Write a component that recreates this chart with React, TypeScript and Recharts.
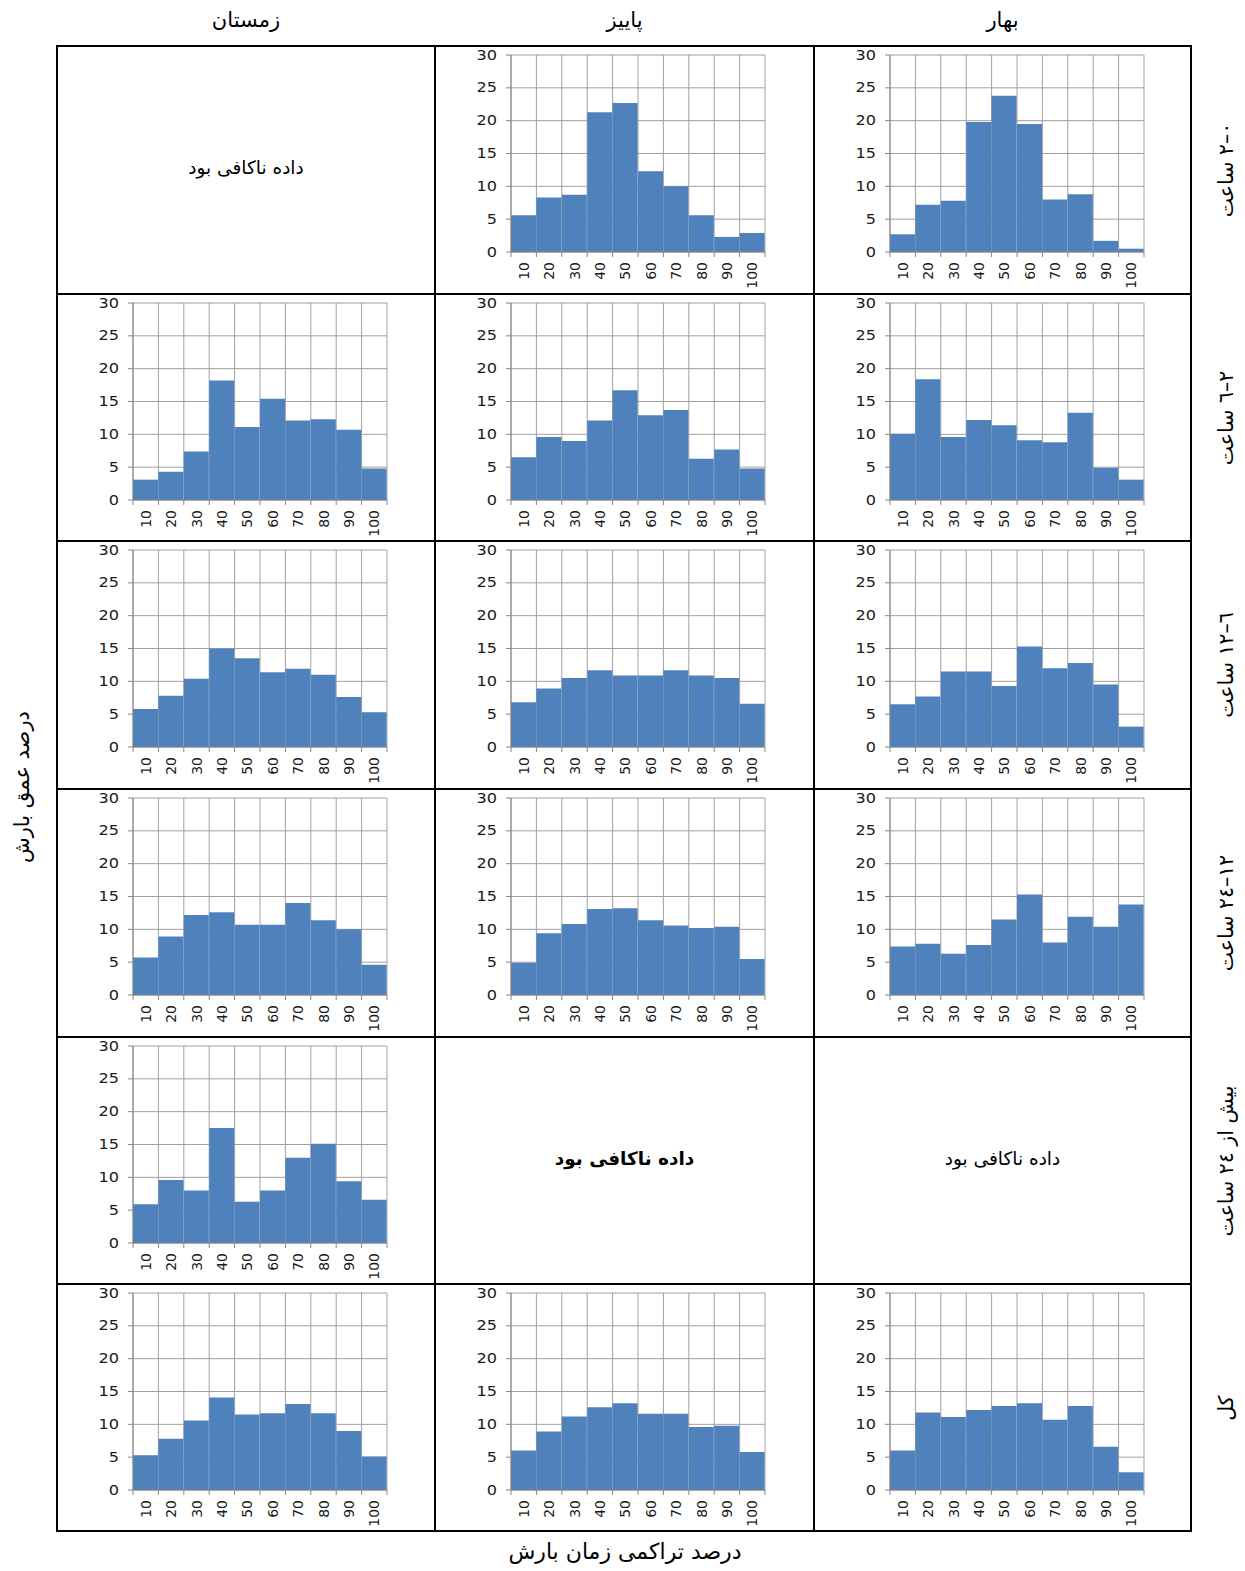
import { BarChart, Bar, XAxis, YAxis, CartesianGrid } from "recharts";

// categories and axis ticks
const BINS = ["10", "20", "30", "40", "50", "60", "70", "80", "90", "100"];
const Y_TICKS = [0, 5, 10, 15, 20, 25, 30];

const SEASONS = ["زمستان", "پاییز", "بهار"];
const DURATIONS = [
  "٠–٢ ساعت",
  "٢–٦ ساعت",
  "٦–١٢ ساعت",
  "١٢–٢٤ ساعت",
  "بیش از ٢٤ ساعت",
  "کل",
];
const NO_DATA = "داده ناکافی بود";

// percent of rainfall depth per 10% of cumulative duration
const FALL_0_2 = [5.6, 8.3, 8.7, 21.3, 22.7, 12.3, 10.0, 5.6, 2.3, 2.9];
const SPRING_0_2 = [2.7, 7.2, 7.8, 19.8, 23.8, 19.5, 8.0, 8.8, 1.7, 0.5];
const WINTER_2_6 = [3.1, 4.3, 7.4, 18.2, 11.1, 15.4, 12.1, 12.3, 10.7, 4.8];
const FALL_2_6 = [6.5, 9.6, 9.0, 12.1, 16.7, 12.9, 13.7, 6.3, 7.7, 4.8];
const SPRING_2_6 = [10.1, 18.4, 9.6, 12.2, 11.4, 9.1, 8.8, 13.3, 4.9, 3.1];
const WINTER_6_12 = [5.8, 7.8, 10.4, 15.0, 13.5, 11.4, 11.9, 11.0, 7.6, 5.3];
const FALL_6_12 = [6.8, 8.9, 10.5, 11.7, 10.9, 10.9, 11.7, 10.9, 10.5, 6.6];
const SPRING_6_12 = [6.5, 7.7, 11.5, 11.5, 9.3, 15.3, 12.0, 12.8, 9.5, 3.1];
const WINTER_12_24 = [5.7, 8.9, 12.2, 12.6, 10.7, 10.7, 14.0, 11.4, 10.0, 4.6];
const FALL_12_24 = [4.9, 9.4, 10.8, 13.1, 13.2, 11.4, 10.6, 10.2, 10.4, 5.5];
const SPRING_12_24 = [7.4, 7.8, 6.3, 7.6, 11.5, 15.3, 8.0, 11.9, 10.4, 13.8];
const WINTER_OVER_24 = [5.9, 9.6, 8.0, 17.5, 6.3, 8.0, 13.0, 15.1, 9.4, 6.6];
const WINTER_ALL = [5.3, 7.8, 10.6, 14.1, 11.5, 11.7, 13.1, 11.7, 9.0, 5.1];
const FALL_ALL = [6.0, 8.9, 11.2, 12.6, 13.2, 11.6, 11.6, 9.6, 9.8, 5.8];
const SPRING_ALL = [6.0, 11.8, 11.1, 12.2, 12.8, 13.2, 10.7, 12.8, 6.6, 2.7];

// rows = durations, columns = winter / fall / spring (null = not enough data)
const PANELS: (number[] | null)[][] = [
  [null, FALL_0_2, SPRING_0_2],
  [WINTER_2_6, FALL_2_6, SPRING_2_6],
  [WINTER_6_12, FALL_6_12, SPRING_6_12],
  [WINTER_12_24, FALL_12_24, SPRING_12_24],
  [WINTER_OVER_24, null, null],
  [WINTER_ALL, FALL_ALL, SPRING_ALL],
];

// table grid lines
const COL_X = [57, 435, 814, 1191];
const ROW_Y = [46, 294, 541, 789, 1037, 1284, 1531];

const BAR = "#4F81BD";
const AXIS = "#868686";
const GRID = "#a0a0a0";
const FONT = "'DejaVu Sans', sans-serif";

function ValueTick(props: any) {
  const { x, y, payload } = props;
  return (
    <text
      x={x}
      y={y}
      textAnchor="end"
      dominantBaseline="central"
      fontSize={14}
      fontFamily={FONT}
      fill="#1a1a1a"
      transform={`translate(${x} ${y}) scale(1.15 1) translate(${-x} ${-y})`}
    >
      {payload.value}
    </text>
  );
}

function BinTick(props: any) {
  const { x, y, payload, index, visibleTicksCount } = props;
  const half = payload.offset || 12.6;
  const top = y - 10;
  return (
    <g>
      <line x1={x - half} x2={x - half} y1={top} y2={top + 5} stroke={AXIS} />
      {index === visibleTicksCount - 1 && (
        <line x1={x + half} x2={x + half} y1={top} y2={top + 5} stroke={AXIS} />
      )}
      <text
        x={x}
        y={y}
        textAnchor="end"
        dominantBaseline="central"
        fontSize={14}
        fontFamily={FONT}
        fill="#1a1a1a"
        transform={`rotate(-90 ${x} ${y})`}
      >
        {payload.value}
      </text>
    </g>
  );
}

function Hist({ values }: { values: number[] }) {
  const data = BINS.map((bin, i) => ({ bin, v: values[i] }));
  return (
    <BarChart
      width={376}
      height={246}
      data={data}
      margin={{ top: 9, right: 46, bottom: 0, left: 0 }}
      barCategoryGap={0}
      barGap={0}
    >
      <CartesianGrid
        stroke={GRID}
        verticalCoordinatesGenerator={({ offset }: any) =>
          BINS.map((_, i) => offset.left + (i * offset.width) / BINS.length).concat(
            offset.left + offset.width
          )
        }
      />
      <XAxis
        dataKey="bin"
        height={40}
        interval={0}
        tickLine={false}
        tickSize={5}
        tickMargin={5}
        axisLine={{ stroke: AXIS }}
        tick={<BinTick />}
      />
      <YAxis
        width={76}
        domain={[0, 30]}
        ticks={Y_TICKS}
        interval={0}
        tickSize={5}
        tickMargin={9}
        axisLine={{ stroke: AXIS }}
        tickLine={{ stroke: AXIS }}
        tick={<ValueTick />}
      />
      <Bar dataKey="v" fill={BAR} isAnimationActive={false} />
    </BarChart>
  );
}

export default function App() {
  const line = "#000";
  return (
    <div
      style={{
        position: "absolute",
        left: 0,
        top: 0,
        width: 1245,
        height: 1571,
        background: "#fff",
        fontFamily: FONT,
        color: "#000",
        overflow: "hidden",
      }}
    >
      {/* season headers */}
      {SEASONS.map((s, c) => (
        <div
          key={s}
          dir="rtl"
          style={{
            position: "absolute",
            left: COL_X[c],
            width: COL_X[c + 1] - COL_X[c],
            top: 8,
            textAlign: "center",
            fontSize: 21,
          }}
        >
          {s}
        </div>
      ))}

      {/* panels */}
      {PANELS.map((row, r) =>
        row.map((values, c) => {
          const left = COL_X[c];
          const top = ROW_Y[r];
          const w = COL_X[c + 1] - left;
          const h = ROW_Y[r + 1] - top;
          return (
            <div key={`${r}-${c}`} style={{ position: "absolute", left, top, width: w, height: h }}>
              {values ? (
                <Hist values={values} />
              ) : (
                <div
                  dir="rtl"
                  style={{
                    position: "absolute",
                    left: 0,
                    right: 0,
                    top: h / 2 - 13,
                    textAlign: "center",
                    fontSize: 18.5,
                    fontWeight: r === 4 && c === 1 ? "bold" : "normal",
                  }}
                >
                  {NO_DATA}
                </div>
              )}
            </div>
          );
        })
      )}

      {/* duration labels on the right */}
      {DURATIONS.map((d, r) => (
        <div
          key={d}
          dir="rtl"
          style={{
            position: "absolute",
            left: 1226 - 100,
            top: (ROW_Y[r] + ROW_Y[r + 1]) / 2 - 13,
            width: 200,
            height: 26,
            lineHeight: "26px",
            textAlign: "center",
            fontSize: 20.5,
            transform: "rotate(-90deg)",
          }}
        >
          {d}
        </div>
      ))}

      {/* y title */}
      <div
        dir="rtl"
        style={{
          position: "absolute",
          left: 22 - 120,
          top: 787 - 13,
          width: 240,
          height: 26,
          lineHeight: "26px",
          textAlign: "center",
          fontSize: 21,
          transform: "rotate(-90deg)",
        }}
      >
        درصد عمق بارش
      </div>

      {/* x title */}
      <div
        dir="rtl"
        style={{
          position: "absolute",
          left: 425,
          width: 400,
          top: 1539,
          textAlign: "center",
          fontSize: 22,
        }}
      >
        درصد تراکمی زمان بارش
      </div>

      {/* table lines */}
      {ROW_Y.map((y) => (
        <div
          key={`h${y}`}
          style={{ position: "absolute", left: COL_X[0] - 1, top: y - 1, width: COL_X[3] - COL_X[0] + 2, height: 2, background: line }}
        />
      ))}
      {COL_X.map((x) => (
        <div
          key={`v${x}`}
          style={{ position: "absolute", left: x - 1, top: ROW_Y[0] - 1, width: 2, height: ROW_Y[6] - ROW_Y[0] + 2, background: line }}
        />
      ))}
    </div>
  );
}
